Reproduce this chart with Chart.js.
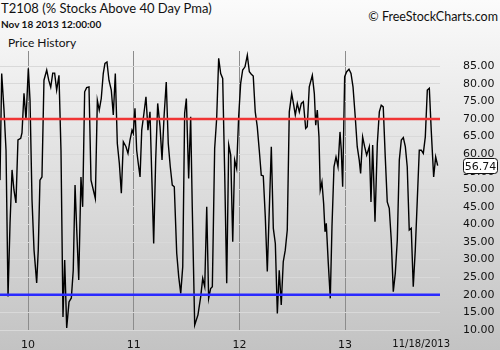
<!DOCTYPE html>
<html><head><meta charset="utf-8">
<script src="https://cdn.jsdelivr.net/npm/chart.js@4"></script>
<style>
html,body{margin:0;padding:0;}
body{width:500px;height:350px;overflow:hidden;position:relative;background:linear-gradient(to bottom,#fbfbfb 0%,#f3f3f3 14%,#c3c3c3 100%);font-family:Lato,sans-serif;color:#111;}
#c{position:absolute;left:0;top:0;}
.t{position:absolute;white-space:nowrap;line-height:normal;}
</style></head><body>
<div class="t" style="left:1px;top:0px;font-size:13px;">T2108 (% Stocks Above 40 Day Pma)</div>
<div class="t" style="left:1px;top:18px;font-size:10px;font-weight:bold;">Nov 18 2013 12:00:00</div>
<div class="t" style="left:8px;top:35px;font-size:12px;">Price History</div>
<div class="t" style="right:2px;top:9px;font-size:12.5px;">© FreeStockCharts.com</div>
<canvas id="c" width="500" height="350"></canvas>
<script>
const dates = [
2009.735,2009.751,2009.773,2009.792,2009.811,2009.830,2009.849,2009.867,2009.886,2009.905,
2009.931,2009.943,2009.962,2009.981,2010.003,2010.019,2010.038,2010.057,2010.082,2010.097,
2010.113,2010.132,2010.151,2010.177,2010.196,2010.215,2010.234,2010.252,2010.271,2010.293,
2010.312,2010.331,2010.347,2010.366,2010.388,2010.410,2010.428,2010.445,2010.461,2010.480,
2010.501,2010.517,2010.536,2010.555,2010.577,2010.596,2010.618,2010.637,2010.656,2010.674,
2010.693,2010.712,2010.728,2010.747,2010.766,2010.788,2010.807,2010.826,2010.845,2010.864,
2010.883,2010.902,2010.927,2010.946,2010.965,2010.984,2010.996,2011.012,2011.028,2011.043,
2011.060,2011.076,2011.097,2011.116,2011.135,2011.154,2011.173,2011.189,2011.208,2011.227,
2011.249,2011.268,2011.287,2011.308,2011.327,2011.346,2011.365,2011.384,2011.407,2011.426,
2011.445,2011.464,2011.482,2011.498,2011.520,2011.539,2011.554,2011.577,2011.608,2011.634,
2011.653,2011.672,2011.691,2011.709,2011.728,2011.744,2011.766,2011.785,2011.804,2011.823,
2011.842,2011.861,2011.880,2011.899,2011.918,2011.937,2011.955,2011.974,2011.993,2012.012,
2012.031,2012.053,2012.075,2012.094,2012.113,2012.131,2012.150,2012.169,2012.188,2012.207,
2012.226,2012.245,2012.264,2012.302,2012.321,2012.340,2012.359,2012.377,2012.396,2012.415,
2012.434,2012.453,2012.472,2012.495,2012.514,2012.529,2012.548,2012.567,2012.586,2012.605,
2012.627,2012.642,2012.661,2012.690,2012.709,2012.722,2012.737,2012.753,2012.765,2012.781,
2012.797,2012.810,2012.822,2012.841,2012.860,2012.876,2012.895,2012.914,2012.933,2012.952,
2012.964,2012.977,2012.996,2013.015,2013.037,2013.056,2013.075,2013.096,2013.115,2013.134,
2013.147,2013.166,2013.185,2013.204,2013.229,2013.245,2013.261,2013.283,2013.305,2013.324,
2013.342,2013.361,2013.380,2013.399,2013.418,2013.437,2013.456,2013.475,2013.494,2013.513,
2013.532,2013.551,2013.570,2013.588,2013.607,2013.626,2013.645,2013.664,2013.683,2013.702,
2013.721,2013.740,2013.759,2013.778,2013.797,2013.815,2013.838,2013.857,2013.876
];
const values = [
52.6,82.9,72.5,61.1,19.5,40.4,55.5,49.8,46.1,64.0,
64.5,66,77.3,69.7,84.4,75.3,46.9,32.7,23.4,32.7,
52.6,53.5,81,83.9,81,79,83,83,78.2,82.4,
61,13.7,29.9,10.6,18,19.1,27.0,51.2,38.4,24.2,
53.5,45,77.7,78.9,79.1,52.6,49.8,47.4,75.3,72.5,
75.8,82.9,85.8,86.2,81,78.2,71.1,82.9,63,57.4,
48.9,63.5,62.1,60.2,64,66.8,65.9,73,61.1,57.4,
53.5,66.8,71.6,76.3,66.8,72,51.7,34.6,58.3,74.4,
67.8,58.3,70.6,80.5,63,56.4,51.2,50.7,31.8,25.1,
20.4,28,71.6,75.8,53.1,70.6,45,11.4,14.3,19.5,
24.7,22.3,45,19,21.8,22.3,61.6,70.1,87.2,82.9,
81.5,54.5,23.3,62.6,59.7,35.1,58.3,55.9,70.6,80.1,
83.9,84.8,88.1,83.4,82.7,82.2,72,67.8,61.1,54,
53.8,42.2,26.6,62.1,38.9,34.6,14.7,27,17.1,29.4,
32.7,38.4,72,77.2,73.9,71.1,74.4,72,74.4,74.9,
67.3,67.8,79.1,82.4,77.2,68.2,72.5,64.9,49.8,52.1,
46,37.9,40.3,29,19,39.4,56.4,59.2,56.4,66.3,
61.1,50.7,82,83.4,84.1,82.9,79.1,70.6,62.1,58.3,
54.5,64.9,62.1,59.7,62.1,46.4,62.6,40.8,63,72,
73.9,73.4,59.2,46.4,44.6,35.6,20.9,26.1,35.6,58.3,
64,64.7,62.1,56.4,38.4,38.9,22.3,32.7,46.9,61.1,
61.1,60.2,64.9,78.2,78.7,66.8,53.5,59.2,56.74
];
const yTickValues = [10,15,20,25,30,35,40,45,50,55,60,65,70,75,80,85];
const yearTicks = [2010,2011,2012,2013];
const yearLabels = ['10','11','12','13'];
const lastDateLabel = '11/18/2013';
const upperLevel = 70;
const lowerLevel = 20;
const xMin = 2009.735, xMax = 2013.898, yMin = 10, yMax = 89.3;

const lastValue = values[values.length - 1];
const seriesData = dates.map((d, i) => ({x: d, y: values[i]}));

const overlay = {
  id: 'overlay',
  afterDraw(chart) {
    const ctx = chart.ctx, ys = chart.scales.y, ca = chart.chartArea;
    ctx.save();
    ctx.font = '10px "DejaVu Sans"';
    ctx.fillStyle = '#111';
    ctx.textAlign = 'right';
    ctx.textBaseline = 'middle';
    ctx.fillText(lastDateLabel, ca.right + 10, ca.bottom + 14);
    const py = ys.getPixelForValue(lastValue);
    const bx = 463, bw = 34, bh = 15;
    ctx.beginPath();
    ctx.roundRect(bx + 0.5, Math.round(py - bh / 2) + 0.5, bw, bh, 3);
    ctx.fillStyle = '#fff';
    ctx.fill();
    ctx.strokeStyle = '#111';
    ctx.lineWidth = 1;
    ctx.stroke();
    ctx.fillStyle = '#111';
    ctx.font = '11px "DejaVu Sans"';
    ctx.textAlign = 'center';
    ctx.fillText(lastValue.toFixed(2), bx + bw / 2 + 0.5, Math.round(py) + 1);
    ctx.restore();
  }
};

new Chart(document.getElementById('c'), {
  type: 'line',
  data: {
    datasets: [
      {data: [{x: xMin, y: upperLevel}, {x: xMax, y: upperLevel}], borderColor: '#f03434', borderWidth: 2.5, pointRadius: 0, order: 0},
      {data: [{x: xMin, y: lowerLevel}, {x: xMax, y: lowerLevel}], borderColor: '#2a2aff', borderWidth: 2.5, pointRadius: 0, order: 0},
      {data: seriesData, borderColor: '#000', borderWidth: 1.4, pointRadius: 0, tension: 0, order: 1}
    ]
  },
  options: {
    responsive: false,
    animation: false,
    layout: {padding: {top: 51, left: 0, right: 0, bottom: 0}},
    plugins: {legend: {display: false}, tooltip: {enabled: false}},
    scales: {
      x: {
        type: 'linear', min: xMin, max: xMax,
        afterBuildTicks: s => { s.ticks = yearTicks.map(v => ({value: v})); },
        afterFit: s => { s.height = 20; s.paddingLeft = 0; s.paddingRight = 0; },
        border: {display: false},
        grid: {color: '#8c8c8c', lineWidth: 1, drawTicks: false},
        ticks: {padding: 9, color: '#111', font: {family: 'DejaVu Sans', size: 11},
          callback: (v) => yearLabels[yearTicks.indexOf(v)] }
      },
      y: {
        position: 'right', min: yMin, max: yMax,
        afterBuildTicks: s => { s.ticks = yTickValues.map(v => ({value: v})); },
        afterFit: s => { s.width = 60; s.paddingTop = 0; s.paddingBottom = 0; },
        border: {display: false},
        grid: {color: '#d9d9d9', lineWidth: 1, drawTicks: false},
        ticks: {padding: 23, color: '#111', font: {family: 'DejaVu Sans', size: 11},
          callback: v => Number(v).toFixed(2)}
      }
    }
  },
  plugins: [overlay]
});
</script>
</body></html>
